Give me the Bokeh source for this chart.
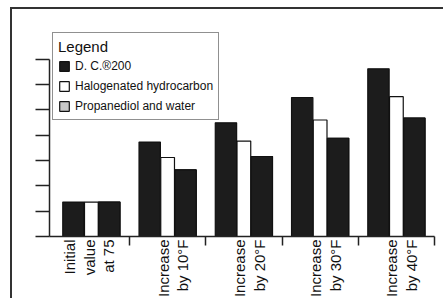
import math
from bokeh.plotting import figure
from bokeh.models import ColumnDataSource, FixedTicker, Legend, LegendItem, Range1d
from bokeh.embed import file_html
from bokeh.resources import INLINE

# ---- data (y in axis-tick units) ----
categories = ["Initial\nvalue\nat 75", "Increase\nby 10°F", "Increase\nby 20°F",
              "Increase\nby 30°F", "Increase\nby 40°F"]
series_names = ["D. C.®200", "Halogenated hydrocarbon", "Propanediol and water"]
dc200 = [1.36, 3.73, 4.49, 5.49, 6.62]
halogenated = [1.36, 3.12, 3.77, 4.60, 5.52]
propanediol = [1.36, 2.63, 3.16, 3.88, 4.68]
y_ticks = [0, 1, 2, 3, 4, 5, 6, 7]

FONT = "Liberation Sans"
INK = "#1c1c1c"

centers = [i + 0.5 for i in range(len(categories))]
bounds_ticks = [i + 1 for i in range(len(categories))]
OFF = 0.235
# labels in the reference sit slightly off the group centres
label_pos = [c + (-0.03 if i == 0 else 0.07) for i, c in enumerate(centers)]

src = ColumnDataSource(dict(
    x1=[c - OFF for c in centers], x2=centers, x3=[c + OFF for c in centers],
    dc=dc200, hal=halogenated, pro=propanediol,
))

p = figure(width=433, height=291,
           x_range=Range1d(-0.049, 5.026), y_range=Range1d(0, 8.53),
           output_backend="svg", toolbar_location=None,
           min_border_left=37, min_border_right=9, min_border_top=11, min_border_bottom=63,
           styles={"margin-left": "10px", "margin-top": "7px",
                   "border-left": "2px solid #333333", "border-top": "2px solid #333333"})
p.outline_line_color = None
p.xgrid.visible = False
p.ygrid.visible = False
p.background_fill_color = "white"
p.border_fill_color = "white"

# grey swatch renderer for the legend, drawn underneath the black third-series bars
r4 = p.vbar(x="x3", top="pro", bottom=0, width=0.28, source=src,
            fill_color="#c8c8c8", line_color="#111111", line_width=1.2)
r1 = p.vbar(x="x1", top="dc", bottom=0, width=0.28, source=src,
            fill_color=INK, line_color="#111111", line_width=1.2)
r2 = p.vbar(x="x2", top="hal", bottom=0, width=0.18, source=src,
            fill_color="white", line_color="#111111", line_width=1.2)
r3 = p.vbar(x="x3", top="pro", bottom=0, width=0.28, source=src,
            fill_color=INK, line_color="#111111", line_width=1.2)

# y axis: ticks only, no labels
ya = p.yaxis[0]
ya.ticker = FixedTicker(ticks=y_ticks, minor_ticks=[])
ya.major_label_overrides = {t: "" for t in y_ticks}
ya.major_tick_out = 14
ya.major_tick_in = 0
ya.minor_tick_out = 0
ya.minor_tick_in = 0
ya.axis_line_width = 1.5
ya.axis_line_color = "#222222"
ya.major_tick_line_width = 1.5
ya.major_tick_line_color = "#222222"
ya.bounds = (0, y_ticks[-1])

# x axis: labels near group centres, tick marks at group boundaries
xa = p.xaxis[0]
xa.ticker = FixedTicker(ticks=label_pos, minor_ticks=bounds_ticks)
xa.major_label_overrides = {c: lab for c, lab in zip(label_pos, categories)}
xa.major_label_orientation = math.pi / 2
xa.major_label_standoff = -6
xa.major_label_text_font = FONT
xa.major_label_text_font_size = "15px"
xa.major_label_text_color = "#111111"
xa.major_label_text_line_height = 1.17
xa.major_tick_out = 0
xa.major_tick_in = 0
xa.major_tick_line_color = None
xa.minor_tick_out = 9
xa.minor_tick_in = 0
xa.minor_tick_line_width = 1.5
xa.minor_tick_line_color = "#222222"
xa.axis_line_width = 1.5
xa.axis_line_color = "#222222"
xa.bounds = (-0.049, 5)

legend = Legend(items=[
    LegendItem(label=series_names[0], renderers=[r1]),
    LegendItem(label=series_names[1], renderers=[r2]),
    LegendItem(label=series_names[2], renderers=[r4]),
], location=(3, 116))
legend.title = "Legend"
legend.title_text_font = FONT
legend.title_text_font_size = "15px"
legend.title_text_font_style = "normal"
legend.title_text_color = "#111111"
legend.title_standoff = 2
legend.label_text_font = FONT
legend.label_text_font_size = "12px"
legend.label_text_color = "#111111"
legend.border_line_color = "#222222"
legend.border_line_width = 1.5
legend.background_fill_alpha = 1
legend.padding = 5
legend.margin = 0
legend.spacing = 3
legend.label_height = 17
legend.glyph_height = 12
legend.glyph_width = 12
legend.label_standoff = 5
p.add_layout(legend)

open("out.html", "w").write(file_html(p, INLINE))
